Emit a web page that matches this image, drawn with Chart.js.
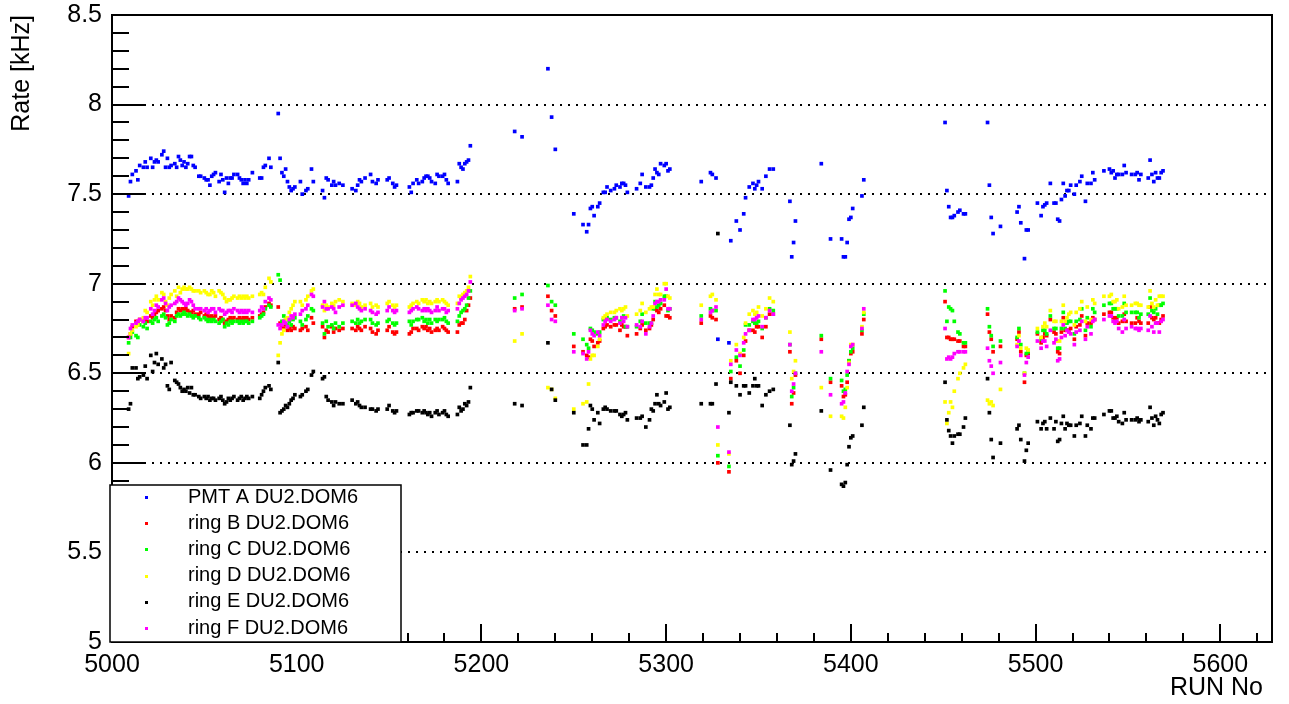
<!DOCTYPE html>
<html>
<head>
<meta charset="utf-8">
<title>Rate vs RUN No</title>
<script src="https://cdn.jsdelivr.net/npm/chart.js@4.4.1/dist/chart.umd.min.js"></script>
<style>
  html, body { margin: 0; padding: 0; background: #fff; }
  #wrap { width: 1289px; height: 704px; }
</style>
</head>
<body>
<div id="wrap"><canvas id="rates"></canvas></div>
<script>
// run numbers, one row per segment of data taking
const runs = [
  5009,5010,5011,5013,5014,5015,5017,5018,5019,5021, 5022,5023,5024,5025,5027,5028,5029,5030,5031,5032,
  5034,5035,5036,5037,5038,5039,5040,5041,5042,5043, 5044,5045,5047,5048,5050,5051,5052,5053,5054,5055,
  5056,5058,5059,5060,5061,5062,5063,5064,5065,5066, 5068,5069,5070,5071,5072,5073,5074,5076,5080,5081,
  5082,5083,5085,5086,5090,5091,5092,5093,5094,5095, 5096,5097,5098,5099,
  5102,5103,5105,5106,5108,5109,5114,5115,5116,5117, 5119,5120,5121,5123,5125,5130,5132,5133,5134,5135,
  5137,5140,5141,5143,5144,5149,5150,5152,5153,5154, 5161,5162,5163,5165,5166,5168,5169,5170,5171,5172,
  5173,5175,5176,5177,5179,5180,5181,5182,5187,5188, 5189,5190,5191,5192,5193,5194,
  5218,5222,5236,5238,5240,
  5250,5255,5257,5258,5259,5260,5261,5263,5264,5266, 5267,5268,5270,5272,5273,5275,5276,5277,5278,5279,
  5284,5286,5287,5289,5291,5292,5293,5294,5295,5296, 5297,5299,5300,5301,5302,
  5319,5324,5325,5327,5328,5334,5335,5338,5340,5342, 5343,5345,5347,5348,5349,5350,5352,5354,5356,5358,
  5367,5368,5369,5370,5384,5389,5395,5396,5397,5398, 5399,5400,5401,5406,5407,
  5451,5452,5453,5454,5455,5456,5458,5459,5461,5462, 5474,5475,5476,5477,5481,
  5490,5491,5492,5494,5495,5496,5501,5503,5504,5505, 5506,5508,5510,5511,5512,5513,5514,5515,5516,5517,
  5518,5519,5521,5522,5524,5525,5527,5528,5530,5531, 5532,5537,5540,5541,5542,5543,5544,5545,5547,5548,
  5549,5552,5554,5555,5556,5557,5561,5562,5563,5564, 5565,5566,5567,5568,5569
]

// rates in kHz
const pmtA = [
  7.49,7.57,7.61,7.63,7.58,7.66,7.65,7.68,7.65,7.70, 7.65,7.68,7.69,7.68,7.72,7.74,7.65,7.70,7.65,7.66,
  7.67,7.65,7.71,7.69,7.66,7.68,7.65,7.67,7.71,7.71, 7.66,7.65,7.60,7.60,7.59,7.58,7.58,7.55,7.60,7.61,
  7.62,7.57,7.61,7.58,7.51,7.59,7.56,7.59,7.59,7.61, 7.61,7.59,7.58,7.56,7.58,7.56,7.58,7.62,7.59,7.59,
  7.65,7.66,7.70,7.65,7.95,7.70,7.62,7.60,7.64,7.57, 7.54,7.52,7.53,7.54,
  7.57,7.50,7.52,7.53,7.64,7.57,7.52,7.48,7.59,7.58, 7.55,7.57,7.55,7.56,7.55,7.53,7.52,7.55,7.58,7.57,
  7.59,7.61,7.57,7.56,7.58,7.58,7.59,7.56,7.54,7.55, 7.54,7.51,7.56,7.58,7.56,7.57,7.59,7.60,7.60,7.59,
  7.57,7.56,7.61,7.60,7.60,7.61,7.58,7.56,7.57,7.67, 7.65,7.64,7.67,7.68,7.69,7.77,
  7.85,7.82,8.20,7.93,7.75,
  7.39,7.33,7.29,7.33,7.42,7.43,7.38,7.43,7.45,7.51, 7.51,7.54,7.52,7.53,7.55,7.54,7.56,7.56,7.55,7.51,
  7.53,7.56,7.61,7.54,7.54,7.55,7.59,7.64,7.62,7.61, 7.67,7.66,7.67,7.63,7.64,
  7.57,7.62,7.61,7.59,6.69,6.67,7.24,7.35,7.30,7.39, 7.48,7.54,7.56,7.53,7.55,7.57,7.53,7.60,7.64,7.64,
  7.46,7.15,7.23,7.35,7.67,7.25,7.25,7.15,7.15,7.23, 7.36,7.37,7.42,7.49,7.58,
  7.90,7.52,7.43,7.37,7.37,7.38,7.40,7.41,7.39,7.39, 7.90,7.55,7.37,7.28,7.32,
  7.40,7.43,7.34,7.14,7.30,7.30,7.45,7.38,7.43,7.44, 7.45,7.56,7.45,7.45,7.36,7.35,7.47,7.56,7.49,7.52,
  7.52,7.55,7.50,7.55,7.57,7.60,7.46,7.56,7.56,7.62, 7.58,7.63,7.64,7.62,7.63,7.59,7.61,7.61,7.61,7.66,
  7.62,7.61,7.61,7.62,7.58,7.61,7.59,7.69,7.61,7.57, 7.62,7.59,7.59,7.62,7.63
]

const ringB = [
  6.70,6.72,6.76,6.79,6.78,6.80,6.79,6.80,6.79,6.82, 6.81,6.83,6.84,6.85,6.86,6.87,6.85,6.82,6.80,6.82,
  6.81,6.84,6.86,6.85,6.86,6.85,6.86,6.85,6.84,6.84, 6.85,6.83,6.83,6.84,6.82,6.83,6.82,6.81,6.82,6.81,
  6.82,6.80,6.81,6.80,6.78,6.79,6.80,6.81,6.80,6.81, 6.80,6.81,6.80,6.81,6.80,6.81,6.80,6.81,6.82,6.83,
  6.84,6.87,6.89,6.88,6.87,6.78,6.76,6.75,6.77,6.74, 6.75,6.74,6.76,6.75,
  6.74,6.75,6.76,6.74,6.81,6.78,6.76,6.70,6.74,6.73, 6.76,6.73,6.75,6.74,6.75,6.75,6.74,6.76,6.75,6.74,
  6.76,6.75,6.73,6.72,6.74,6.74,6.76,6.73,6.72,6.73, 6.72,6.73,6.75,6.75,6.74,6.76,6.75,6.76,6.74,6.75,
  6.73,6.74,6.75,6.74,6.76,6.75,6.74,6.73,6.73,6.77, 6.78,6.78,6.80,6.85,6.88,6.92,
  6.86,6.87,6.93,6.85,6.82,
  6.65,6.62,6.60,6.59,6.69,6.68,6.65,6.67,6.68,6.75, 6.76,6.77,6.76,6.77,6.77,6.74,6.77,6.76,6.76,6.71,
  6.72,6.75,6.77,6.74,6.75,6.77,6.80,6.86,6.85,6.84, 6.86,6.88,6.82,6.82,6.81,
  6.78,6.82,6.81,6.80,6.00,5.95,6.47,6.57,6.50,6.60, 6.68,6.74,6.74,6.73,6.76,6.76,6.70,6.76,6.83,6.83,
  6.62,6.33,6.39,6.49,6.69,6.45,6.43,6.37,6.38,6.45, 6.57,6.61,6.62,6.72,6.80,
  6.90,6.70,6.70,6.69,6.69,6.69,6.68,6.68,6.65,6.65, 6.83,6.73,6.69,6.62,6.65,
  6.69,6.73,6.62,6.45,6.60,6.61,6.72,6.67,6.70,6.72, 6.71,6.80,6.73,6.72,6.62,6.61,6.73,6.81,6.74,6.74,
  6.74,6.75,6.69,6.76,6.77,6.82,6.71,6.78,6.78,6.81, 6.80,6.83,6.84,6.84,6.81,6.80,6.81,6.78,6.79,6.83,
  6.79,6.78,6.78,6.81,6.79,6.78,6.78,6.87,6.81,6.80, 6.81,6.78,6.78,6.80,6.82
]

const ringC = [
  6.67,6.70,6.73,6.71,6.70,6.77,6.76,6.78,6.75,6.79, 6.78,6.80,6.81,6.79,6.82,6.83,6.81,6.77,6.78,6.80,
  6.79,6.82,6.83,6.82,6.83,6.84,6.83,6.82,6.83,6.82, 6.81,6.82,6.81,6.80,6.81,6.80,6.79,6.80,6.79,6.80,
  6.79,6.78,6.79,6.80,6.76,6.78,6.77,6.79,6.78,6.79, 6.79,6.78,6.79,6.78,6.79,6.79,6.78,6.79,6.81,6.82,
  6.83,6.86,6.88,6.87,7.05,7.02,6.79,6.82,6.80,6.77, 6.79,6.77,6.80,6.81,
  6.79,6.77,6.80,6.82,6.86,6.85,6.78,6.72,6.79,6.76, 6.77,6.75,6.78,6.76,6.78,6.79,6.78,6.80,6.78,6.79,
  6.80,6.80,6.78,6.77,6.78,6.79,6.80,6.78,6.77,6.78, 6.79,6.77,6.79,6.80,6.80,6.81,6.79,6.80,6.78,6.80,
  6.78,6.80,6.79,6.80,6.80,6.81,6.79,6.78,6.79,6.82, 6.84,6.85,6.86,6.88,6.92,6.96,
  6.92,6.94,6.99,6.90,6.88,
  6.72,6.69,6.66,6.64,6.75,6.74,6.73,6.72,6.73,6.80, 6.81,6.81,6.80,6.81,6.81,6.79,6.81,6.82,6.76,6.76,
  6.76,6.79,6.83,6.78,6.78,6.78,6.86,6.90,6.87,6.88, 6.89,6.93,6.93,6.85,6.86,
  6.82,6.86,6.85,6.85,6.04,5.98,6.51,6.59,6.54,6.63, 6.77,6.77,6.79,6.78,6.78,6.79,6.75,6.81,6.86,6.85,
  6.66,6.37,6.42,6.50,6.71,6.47,6.46,6.40,6.41,6.49, 6.57,6.62,6.64,6.74,6.83,
  6.96,6.79,6.87,6.86,6.85,6.79,6.73,6.72,6.67,6.67, 6.86,6.76,6.71,6.65,6.68,
  6.70,6.75,6.66,6.50,6.61,6.62,6.73,6.69,6.74,6.74, 6.72,6.82,6.75,6.75,6.64,6.64,6.75,6.84,6.75,6.78,
  6.79,6.79,6.72,6.79,6.80,6.86,6.74,6.81,6.76,6.86, 6.84,6.88,6.89,6.89,6.86,6.86,6.86,6.82,6.82,6.89,
  6.84,6.84,6.84,6.84,6.81,6.83,6.83,6.92,6.85,6.84, 6.86,6.83,6.88,6.88,6.89
]

const ringD = [
  6.61,6.72,6.74,6.76,6.77,6.80,6.81,6.85,6.84,6.90, 6.88,6.91,6.93,6.91,6.95,6.94,6.90,6.88,6.92,6.94,
  6.96,6.93,6.98,6.95,6.97,6.98,6.97,6.97,6.98,6.97, 6.96,6.96,6.96,6.95,6.96,6.95,6.94,6.94,6.96,6.95,
  6.93,6.96,6.95,6.94,6.92,6.90,6.91,6.91,6.92,6.93, 6.92,6.93,6.92,6.93,6.92,6.93,6.92,6.93,6.94,6.95,
  6.94,6.98,7.03,7.01,6.60,6.67,6.72,6.74,6.80,6.81, 6.84,6.86,6.88,6.90,
  6.90,6.88,6.91,6.93,6.96,6.97,6.88,6.85,6.88,6.87, 6.89,6.88,6.90,6.91,6.90,6.89,6.88,6.90,6.89,6.87,
  6.88,6.89,6.87,6.88,6.87,6.89,6.90,6.88,6.87,6.88, 6.87,6.88,6.89,6.90,6.89,6.91,6.90,6.91,6.89,6.90,
  6.89,6.90,6.91,6.90,6.91,6.90,6.89,6.88,6.89,6.93, 6.92,6.94,6.95,6.96,6.98,7.04,
  6.68,6.72,6.42,6.41,6.36,
  6.30,6.33,6.34,6.44,6.58,6.60,6.60,6.65,6.69,6.81, 6.82,6.83,6.84,6.84,6.85,6.86,6.85,6.86,6.87,6.82,
  6.83,6.85,6.89,6.84,6.86,6.87,6.87,6.94,6.97,6.94, 6.94,7.00,7.00,6.93,6.92,
  6.88,6.93,6.94,6.91,6.10,6.05,6.57,6.66,6.61,6.70, 6.78,6.83,6.85,6.83,6.84,6.87,6.82,6.86,6.92,6.90,
  6.73,6.47,6.51,6.57,6.42,6.26,6.26,6.25,6.31,6.42, 6.56,6.66,6.66,6.76,6.84,
  6.34,6.22,6.28,6.34,6.31,6.40,6.47,6.50,6.53,6.55, 6.35,6.33,6.34,6.32,6.41,
  6.66,6.71,6.64,6.50,6.64,6.63,6.75,6.70,6.76,6.78, 6.76,6.85,6.79,6.79,6.68,6.68,6.79,6.88,6.79,6.81,
  6.83,6.84,6.77,6.84,6.86,6.90,6.79,6.87,6.80,6.91, 6.89,6.93,6.93,6.94,6.90,6.90,6.91,6.86,6.87,6.93,
  6.88,6.88,6.89,6.89,6.88,6.88,6.87,6.96,6.89,6.87, 6.91,6.88,6.93,6.93,6.93
]

const ringE = [
  6.30,6.33,6.53,6.53,6.47,6.48,6.49,6.54,6.47,6.60, 6.51,6.56,6.61,6.55,6.58,6.53,6.55,6.43,6.41,6.56,
  6.46,6.45,6.44,6.42,6.40,6.41,6.40,6.42,6.39,6.42, 6.38,6.38,6.37,6.36,6.37,6.36,6.37,6.35,6.36,6.36,
  6.35,6.36,6.37,6.35,6.33,6.34,6.36,6.35,6.36,6.37, 6.35,6.36,6.37,6.35,6.36,6.37,6.36,6.37,6.36,6.38,
  6.40,6.42,6.43,6.41,6.56,6.28,6.29,6.30,6.32,6.31, 6.33,6.35,6.36,6.38,
  6.37,6.38,6.40,6.41,6.49,6.51,6.47,6.48,6.37,6.35, 6.34,6.32,6.34,6.33,6.33,6.35,6.33,6.34,6.32,6.31,
  6.31,6.30,6.30,6.29,6.30,6.30,6.32,6.29,6.28,6.29, 6.27,6.28,6.28,6.29,6.29,6.28,6.29,6.28,6.27,6.28,
  6.26,6.28,6.29,6.27,6.28,6.29,6.27,6.26,6.27,6.31, 6.29,6.30,6.33,6.32,6.34,6.42,
  6.33,6.32,6.67,6.41,6.35,
  6.28,6.10,6.10,6.19,6.32,6.30,6.24,6.28,6.22,6.30, 6.31,6.30,6.29,6.29,6.29,6.27,6.26,6.27,6.28,6.24,
  6.25,6.25,6.26,6.20,6.24,6.30,6.29,6.33,6.38,6.33, 6.32,6.34,6.39,6.30,6.31,
  6.33,6.33,6.33,6.44,7.28,6.28,6.45,6.43,6.38,6.43, 6.43,6.39,6.43,6.47,6.43,6.43,6.32,6.38,6.40,6.41,
  6.21,5.99,6.01,6.05,6.29,5.96,5.88,5.87,5.89,5.99, 6.09,6.14,6.15,6.21,6.31,
  6.45,6.24,6.18,6.15,6.11,6.15,6.16,6.16,6.20,6.25, 6.47,6.28,6.13,6.03,6.11,
  6.19,6.21,6.13,6.01,6.07,6.11,6.23,6.19,6.22,6.23, 6.19,6.25,6.19,6.23,6.12,6.13,6.22,6.26,6.19,6.22,
  6.21,6.21,6.15,6.21,6.22,6.26,6.15,6.21,6.19,6.25, 6.25,6.27,6.29,6.29,6.25,6.25,6.26,6.23,6.22,6.28,
  6.24,6.24,6.24,6.25,6.23,6.24,6.23,6.31,6.25,6.21, 6.26,6.24,6.22,6.27,6.28
]

const ringF = [
  6.70,6.75,6.77,6.78,6.79,6.80,6.79,6.81,6.81,6.86, 6.83,6.85,6.88,6.87,6.91,6.92,6.89,6.85,6.87,6.88,
  6.89,6.90,6.92,6.91,6.90,6.89,6.88,6.89,6.91,6.90, 6.88,6.86,6.86,6.86,6.85,6.86,6.84,6.85,6.86,6.86,
  6.84,6.86,6.85,6.85,6.83,6.84,6.85,6.85,6.84,6.86, 6.85,6.84,6.85,6.84,6.85,6.84,6.85,6.84,6.85,6.87,
  6.86,6.90,6.92,6.91,6.77,6.75,6.77,6.79,6.78,6.76, 6.80,6.82,6.81,6.83,
  6.83,6.85,6.86,6.88,6.94,6.93,6.87,6.90,6.86,6.86, 6.87,6.86,6.84,6.87,6.88,6.88,6.89,6.87,6.86,6.85,
  6.86,6.85,6.84,6.83,6.84,6.85,6.87,6.85,6.84,6.85, 6.84,6.85,6.86,6.87,6.86,6.85,6.86,6.85,6.86,6.85,
  6.84,6.85,6.87,6.85,6.86,6.86,6.84,6.85,6.86,6.89, 6.91,6.92,6.93,6.94,6.96,7.01,
  6.85,6.86,6.88,6.80,6.79,
  6.62,6.61,6.58,6.62,6.74,6.72,6.71,6.73,6.71,6.77, 6.79,6.80,6.79,6.80,6.81,6.78,6.81,6.79,6.81,6.76,
  6.77,6.76,6.79,6.72,6.76,6.78,6.82,6.89,6.90,6.90, 6.91,6.91,6.97,6.86,6.86,
  6.80,6.84,6.85,6.87,6.20,6.06,6.55,6.63,6.60,6.67, 6.72,6.74,6.80,6.80,6.81,6.82,6.76,6.81,6.85,6.83,
  6.66,6.40,6.44,6.50,6.62,6.38,6.33,6.34,6.39,6.51, 6.55,6.65,6.66,6.75,6.86,
  6.75,6.58,6.59,6.58,6.59,6.61,6.62,6.62,6.62,6.62, 6.64,6.57,6.54,6.50,6.56,
  6.65,6.68,6.60,6.49,6.56,6.59,6.68,6.64,6.68,6.68, 6.65,6.74,6.67,6.69,6.57,6.58,6.70,6.77,6.71,6.74,
  6.73,6.72,6.66,6.73,6.74,6.79,6.69,6.76,6.72,6.79, 6.80,6.80,6.82,6.82,6.79,6.78,6.79,6.75,6.73,6.80,
  6.75,6.76,6.75,6.75,6.74,6.75,6.74,6.82,6.76,6.73, 6.78,6.78,6.73,6.79,6.80
]

const seriesLabels = ['PMT A DU2.DOM6', 'ring B DU2.DOM6', 'ring C DU2.DOM6', 'ring D DU2.DOM6', 'ring E DU2.DOM6', 'ring F DU2.DOM6']
const seriesValues = [pmtA, ringB, ringC, ringD, ringE, ringF]
const seriesColors = ['#0000ff', '#ff0000', '#00ff00', '#ffff00', '#000000', '#ff00ff']

// labelled ticks on the run axis
const runTicks = [5000, 5100, 5200, 5300, 5400, 5500, 5600]

const FONT = '"Liberation Sans", Arial, Helvetica, sans-serif'

const toPoints = values => runs.map((r, i) => ({ x: r, y: values[i] }))

// frame, inward ticks, axis titles and the boxed legend, drawn the ROOT way
const rootFrame = {
    id: 'rootFrame',
    afterDraw(chart) {
        const { ctx, chartArea: a, scales: { x, y } } = chart
        ctx.save()
        ctx.strokeStyle = '#000'
        ctx.lineWidth = 2
        ctx.lineCap = 'butt'

        // y ticks every 0.1, long ones on the half units
        for (let i = 0; i <= 35; i++) {
            const py = Math.round(y.getPixelForValue(5 + i * 0.1))
            const len = i % 5 === 0 ? 33 : 17
            ctx.beginPath()
            ctx.moveTo(a.left, py)
            ctx.lineTo(a.left + len, py)
            ctx.stroke()
        }
        // x ticks every 20 runs, long ones on the hundreds
        for (let v = 5000; v <= x.max; v += 20) {
            const px = Math.round(x.getPixelForValue(v))
            const len = v % 100 === 0 ? 18 : 9
            ctx.beginPath()
            ctx.moveTo(px, a.bottom)
            ctx.lineTo(px, a.bottom - len)
            ctx.stroke()
        }

        ctx.strokeRect(a.left, a.top, a.right - a.left, a.bottom - a.top)

        // axis titles
        ctx.fillStyle = '#000'
        ctx.font = `25px ${FONT}`
        ctx.textAlign = 'right'
        ctx.textBaseline = 'middle'
        ctx.fillText('RUN No', a.right - 9, 688)
        ctx.save()
        ctx.translate(22, a.top)
        ctx.rotate(-Math.PI / 2)
        ctx.fillText('Rate [kHz]', 0, 0)
        ctx.restore()

        // legend box
        const box = { left: 110, top: 485, right: 401, bottom: a.bottom }
        ctx.fillStyle = '#fff'
        ctx.fillRect(box.left, box.top, box.right - box.left, box.bottom - box.top)
        ctx.lineWidth = 1.5
        ctx.strokeRect(box.left, box.top, box.right - box.left, box.bottom - box.top)
        ctx.font = `20px ${FONT}`
        ctx.textAlign = 'left'
        chart.data.datasets.forEach((ds, i) => {
            const cy = 497 + i * 26.2
            ctx.fillStyle = ds.backgroundColor
            ctx.fillRect(145, Math.round(cy) - 1, 3, 3)
            ctx.fillStyle = '#000'
            ctx.fillText(ds.label, 188, cy)
        })
        ctx.restore()
    }
}

new Chart(document.getElementById('rates'), {
    type: 'scatter',
    data: {
        datasets: seriesLabels.map((label, i) => ({
            label,
            data: toPoints(seriesValues[i]),
            backgroundColor: seriesColors[i],
            borderColor: seriesColors[i],
            borderWidth: 0,
            pointStyle: 'rect',
            pointRadius: 2.6,
            pointHoverRadius: 2.6,
            order: seriesLabels.length - i
        }))
    },
    options: {
        responsive: true,
        maintainAspectRatio: false,
        animation: false,
        events: [],
        layout: { padding: { top: 15, right: 17, left: 0, bottom: 0 } },
        plugins: {
            legend: { display: false },
            tooltip: { enabled: false }
        },
        scales: {
            x: {
                type: 'linear',
                min: 5000,
                max: 5628,
                afterFit: s => {
                    s.height = 62
                    s.paddingLeft = 0
                    s.paddingRight = 0
                },
                afterBuildTicks: s => { s.ticks = runTicks.map(value => ({ value })) },
                ticks: {
                    autoSkip: false,
                    maxRotation: 0,
                    padding: 0,
                    color: '#000',
                    font: { family: FONT, size: 25 },
                    callback: v => String(v)
                },
                grid: { display: false },
                border: { display: false }
            },
            y: {
                min: 5,
                max: 8.5,
                afterFit: s => {
                    s.width = 112
                    s.paddingTop = 0
                    s.paddingBottom = 0
                },
                ticks: {
                    stepSize: 0.5,
                    padding: 10,
                    color: '#000',
                    font: { family: FONT, size: 25 },
                    callback: v => String(Math.round(v * 10) / 10)
                },
                grid: { color: '#000', lineWidth: 2, drawTicks: false },
                border: { display: false, dash: [2, 6] }
            }
        }
    },
    plugins: [rootFrame]
})
</script>
</body>
</html>
